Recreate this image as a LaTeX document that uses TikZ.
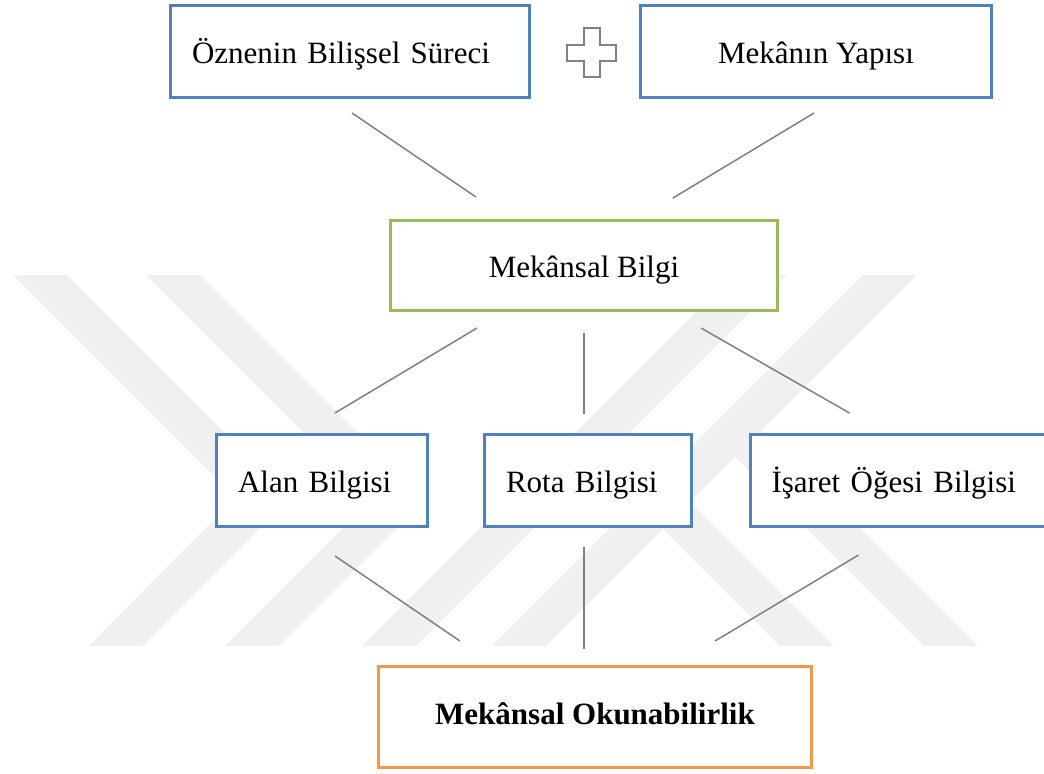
\documentclass[tikz,border=0pt]{standalone}
\usepackage{fontspec}
\setmainfont{Liberation Serif}
\usepackage{xcolor}
\usetikzlibrary{positioning, calc}

\definecolor{boxblue}{HTML}{4F81BD}
\definecolor{boxgreen}{HTML}{9BBB59}
\definecolor{boxorange}{HTML}{F79646}
\definecolor{linegray}{HTML}{808080}
\definecolor{markgray}{HTML}{F0F0F0}

\begin{document}
\begin{tikzpicture}[
		x=0.5pt, y=-0.5pt,
		box/.style={draw, line width=1.5pt, fill=white, text height=11.5pt, text depth=0pt, font=\fontsize{15.5}{18}\selectfont},
		leftbox/.style={box, draw=boxblue, text width=#1, align=left, inner xsep=10.75pt, minimum height=46pt},
		link/.style={draw=linegray, line width=0.75pt},
		stripe/.style={draw=markgray, line width=19pt, line join=miter}
		]
		\useasboundingbox[fill=white] (0,0) rectangle (1044,773);
		
		% Watermark
		\begin{scope}
			\clip (0,275) rectangle (1044,645);
			\draw[stripe] (10,245) -- (263,498) -- (87,675);
			\draw[stripe] (143,245) -- (398,500) -- (223,675);
			\draw[stripe] (360,675) -- (790,245);
			\draw[stripe] (490,675) -- (920,245);
			\draw[stripe] (598,437) -- (836,675);
			\draw[stripe] (735,430) -- (980,675);
		\end{scope}
		
		% Top row
		\node[leftbox=158pt] (ozne) at (350,51.5) {Öznenin Bilişsel Süreci};
		\node[box, draw=boxblue, minimum width=175.5pt, minimum height=46pt] (yapi) at (816,51.5) {Mekânın Yapısı};
		\draw[linegray, line width=1pt] (583.5,28) -- (599.5,28) -- (599.5,44.5) -- (616,44.5) -- (616,61) -- (599.5,61) -- (599.5,77) -- (583.5,77) -- (583.5,61) -- (567,61) -- (567,44.5) -- (583.5,44.5) -- cycle;
		
		% Middle
		\node[box, draw=boxgreen, minimum width=193.5pt, minimum height=45pt] (bilgi) at (584,265.5) {Mekânsal Bilgi};
		
		\node[leftbox=84pt] (alan) at (322,480.5) {Alan Bilgisi};
		\node[leftbox=82pt] (rota) at (588,480.5) {Rota Bilgisi};
		\node[leftbox=136.5pt, anchor=west] (isaret) at (748.5,480.5) {İşaret Öğesi Bilgisi};
		
		% Bottom
		\node[box, draw=boxorange, minimum width=216.5pt, minimum height=50.5pt, text height=10.5pt, text depth=3.5pt, font=\fontsize{15.5}{18}\selectfont\bfseries] (okuma) at (595,717) {Mekânsal Okunabilirlik};
		
		% Lines
		\draw[link] ($(ozne.south)+(2,14)$) -- ($(bilgi.north)+(-108,-22)$);
		\draw[link] ($(yapi.south)+(-2,14)$) -- ($(bilgi.north)+(89,-21)$);
		\draw[link] ($(bilgi.south)+(-107,16)$) -- ($(alan.north)+(13,-20)$);
		\draw[link] ($(bilgi.south)+(0,21)$) -- ($(rota.north)+(-4,-19)$);
		\draw[link] ($(bilgi.south)+(117,16)$) -- ($(isaret.north west)+(101,-20)$);
		\draw[link] ($(alan.south)+(13,28)$) -- ($(okuma.north)+(-135,-24)$);
		\draw[link] ($(rota.south)+(-4,19)$) -- ($(okuma.north)+(-11,-16)$);
		\draw[link] ($(isaret.south west)+(110,27)$) -- ($(okuma.north)+(120,-24)$);
		
	\end{tikzpicture}
\end{document}
